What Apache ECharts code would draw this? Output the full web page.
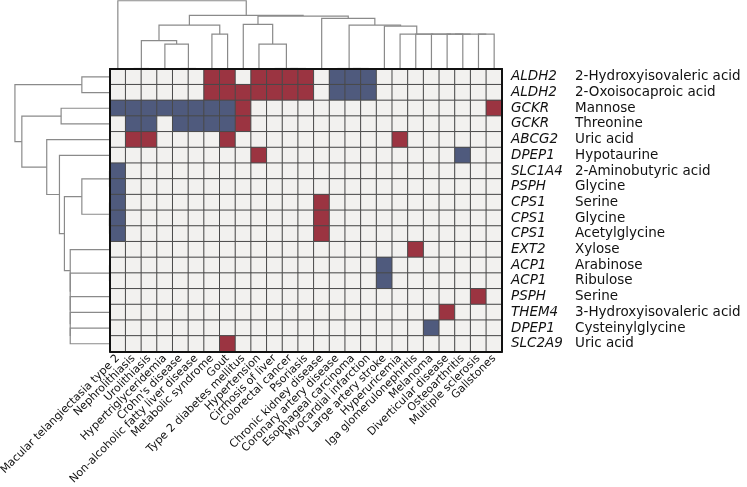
<!DOCTYPE html>
<html>
<head>
<meta charset="utf-8">
<script src="https://cdn.jsdelivr.net/npm/echarts@6/dist/echarts.min.js"></script>
<style>
  html, body { margin: 0; padding: 0; background: #fff; }
  #chart { width: 747px; height: 487px; }
</style>
</head>
<body>
<div id="chart"></div>
<script>
// columns (diseases), left to right
const diseases = ['Macular telangiectasia type 2', 'Nephrolithiasis', 'Urolithiasis', 'Hypertriglyceridemia',
    "Crohn's disease", 'Non-alcoholic fatty liver disease', 'Metabolic syndrome', 'Gout',
    'Type 2 diabetes mellitus', 'Hypertension', 'Cirrhosis of liver', 'Colorectal cancer', 'Psoriasis',
    'Chronic kidney disease', 'Coronary artery disease', 'Esophageal carcinoma', 'Myocardial infarction',
    'Large artery stroke', 'Hyperuricemia', 'Iga glomerulonephritis', 'Melanoma', 'Diverticular disease',
    'Osteoarthritis', 'Multiple sclerosis', 'Gallstones'];

// rows, top to bottom
const genes = ['ALDH2', 'ALDH2', 'GCKR', 'GCKR', 'ABCG2', 'DPEP1', 'SLC1A4', 'PSPH', 'CPS1', 'CPS1',
    'CPS1', 'EXT2', 'ACP1', 'ACP1', 'PSPH', 'THEM4', 'DPEP1', 'SLC2A9'];
const metabolites = ['2-Hydroxyisovaleric acid', '2-Oxoisocaproic acid', 'Mannose', 'Threonine', 'Uric acid',
    'Hypotaurine', '2-Aminobutyric acid', 'Glycine', 'Serine', 'Glycine', 'Acetylglycine', 'Xylose',
    'Arabinose', 'Ribulose', 'Serine', '3-Hydroxyisovaleric acid', 'Cysteinylglycine', 'Uric acid'];

// [column, row] of positive (red) and negative (blue) cells
const redCells = [[6, 0], [7, 0], [9, 0], [10, 0], [11, 0], [12, 0],
    [6, 1], [7, 1], [8, 1], [9, 1], [10, 1], [11, 1], [12, 1],
    [8, 2], [24, 2], [8, 3], [1, 4], [2, 4], [7, 4], [18, 4], [9, 5],
    [13, 8], [13, 9], [13, 10], [19, 11], [23, 14], [21, 15], [7, 17]];
const blueCells = [[14, 0], [15, 0], [16, 0], [14, 1], [15, 1], [16, 1],
    [0, 2], [1, 2], [2, 2], [3, 2], [4, 2], [5, 2], [6, 2], [7, 2],
    [1, 3], [2, 3], [4, 3], [5, 3], [6, 3], [7, 3], [22, 5],
    [0, 6], [0, 7], [0, 8], [0, 9], [0, 10], [17, 12], [17, 13], [20, 16]];

// dendrogram merges: [childA, childB, height]; ids >= leaf count refer to earlier merges
const colTree = [[1, 2, 0], [4, 5, 0], [11, 12, 0], [10, 27, 0], [15, 16, 0], [14, 29, 0],
    [23, 24, 1.41], [21, 22, 1.41], [32, 31, 1.41], [20, 33, 1.41], [19, 34, 1.41], [18, 35, 1.41],
    [3, 26, 1.0], [9, 28, 1.0], [25, 37, 1.14], [6, 7, 1.41], [17, 36, 1.74], [30, 41, 1.78],
    [39, 40, 1.78], [8, 38, 1.81], [13, 42, 2.06], [44, 45, 2.15], [43, 46, 2.18], [0, 47, 2.78]];
const rowTree = [[6, 7, 0], [9, 10, 0], [8, 19, 0], [12, 13, 0],
    [16, 17, 1.42], [15, 22, 1.42], [14, 23, 1.42], [21, 24, 1.42], [11, 25, 1.42],
    [0, 1, 1.0], [18, 20, 1.0], [28, 26, 1.63], [2, 3, 1.75], [5, 29, 1.81], [4, 31, 2.27],
    [30, 32, 3.17], [27, 33, 3.42]];

const RED = '#9b3441';
const BLUE = '#4f5a7d';
const EMPTY = '#f2f1ef';

let heatData = [];
for (let r = 0; r < genes.length; r++) {
    for (let c = 0; c < diseases.length; c++) heatData.push([c, r, 0]);
}
redCells.forEach(([c, r]) => { heatData[r * diseases.length + c][2] = 1; });
blueCells.forEach(([c, r]) => { heatData[r * diseases.length + c][2] = -1; });

// U-shaped links of a dendrogram, leaf i sits at i + 0.5
function dendro(tree, n) {
    let pos = [], hgt = [], segs = [];
    for (let i = 0; i < n; i++) { pos[i] = i + 0.5; hgt[i] = 0; }
    tree.forEach(([a, b, h], k) => {
        segs.push([[pos[a], hgt[a]], [pos[a], h], [pos[b], h], [pos[b], hgt[b]]]);
        pos[n + k] = (pos[a] + pos[b]) / 2;
        hgt[n + k] = h;
    });
    return segs;
}
const topLinks = dendro(colTree, diseases.length).map(s => ({ coords: s }));
const leftLinks = dendro(rowTree, genes.length).map(s => ({ coords: s.map(p => [p[1], p[0]]) }));

const rowNames = genes.map((g, i) => g + ' ' + metabolites[i]);
const FONT = 'DejaVu Sans';
const frame = { show: true, lineStyle: { color: '#111', width: 2 } };

let myChart = echarts.init(document.getElementById('chart'));

let option = {
    animation: false,
    textStyle: { fontFamily: FONT },
    grid: [
        { left: 110, top: 69, width: 392, height: 282.6, outerBoundsMode: 'none', containLabel: false },
        { left: 110, top: 0, width: 392, height: 68.5, outerBoundsMode: 'none', containLabel: false },
        { left: 0, top: 69, width: 109.5, height: 282.6, outerBoundsMode: 'none', containLabel: false }
    ],
    xAxis: [
        {
            type: 'category', gridIndex: 0, data: diseases, position: 'bottom', z: 5,
            axisLine: frame,
            axisTick: { alignWithLabel: true, length: 4, lineStyle: { color: '#111', width: 1.2 } },
            axisLabel: { interval: 0, rotate: 45, margin: 5, fontSize: 11, color: '#111', fontFamily: FONT },
            splitLine: { show: false }
        },
        {
            type: 'category', gridIndex: 0, data: diseases, position: 'top', z: 5,
            axisLine: frame, axisTick: { show: false }, axisLabel: { show: false }
        },
        { type: 'value', gridIndex: 1, min: 0, max: 25, show: false },
        { type: 'value', gridIndex: 2, min: 0, max: 3.96, inverse: true, show: false }
    ],
    yAxis: [
        {
            type: 'category', gridIndex: 0, data: rowNames, position: 'right', inverse: true, z: 5,
            axisLine: frame,
            axisTick: { alignWithLabel: true, length: 6, lineStyle: { color: '#111', width: 1.2 } },
            axisLabel: {
                interval: 0, margin: 9, color: '#111', fontSize: 13.5, fontFamily: FONT,
                formatter: (v, i) => '{g|' + genes[i] + '}{m|' + metabolites[i] + '}',
                rich: {
                    g: { fontStyle: 'italic', width: 64, fontSize: 13.5, color: '#111', fontFamily: FONT },
                    m: { fontSize: 13.5, color: '#111', fontFamily: FONT }
                }
            },
            splitLine: { show: false }
        },
        {
            type: 'category', gridIndex: 0, data: rowNames, position: 'left', inverse: true, z: 5,
            axisLine: frame, axisTick: { show: false }, axisLabel: { show: false }
        },
        { type: 'value', gridIndex: 1, min: 0, max: 2.81, show: false },
        { type: 'value', gridIndex: 2, min: 0, max: 18, inverse: true, show: false }
    ],
    visualMap: {
        type: 'piecewise', show: false, seriesIndex: 0,
        pieces: [
            { value: -1, color: BLUE },
            { value: 0, color: EMPTY },
            { value: 1, color: RED }
        ]
    },
    series: [
        {
            type: 'heatmap', xAxisIndex: 0, yAxisIndex: 0, data: heatData,
            itemStyle: { borderColor: '#4a4a4a', borderWidth: 1 },
            emphasis: { disabled: true }
        },
        {
            type: 'lines', coordinateSystem: 'cartesian2d', polyline: true,
            xAxisIndex: 2, yAxisIndex: 2, data: topLinks, silent: true,
            lineStyle: { color: '#8a8a8a', width: 1.2, opacity: 1 }
        },
        {
            type: 'lines', coordinateSystem: 'cartesian2d', polyline: true,
            xAxisIndex: 3, yAxisIndex: 3, data: leftLinks, silent: true,
            lineStyle: { color: '#8a8a8a', width: 1.2, opacity: 1 }
        }
    ]
};

myChart.setOption(option);
</script>
</body>
</html>
